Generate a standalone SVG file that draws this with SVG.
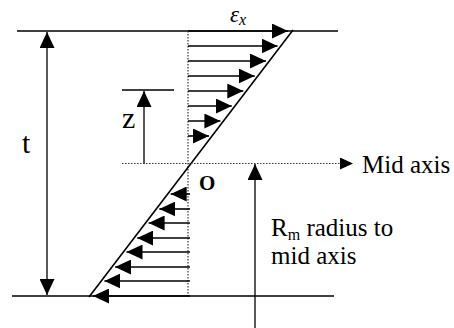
<svg xmlns="http://www.w3.org/2000/svg" width="454" height="328" viewBox="0 0 454 328">
<style>
.ln{stroke:#000;stroke-width:1.6;fill:none}
.thin{stroke:#000;stroke-width:1.3;fill:none}
.dot{stroke:#333;stroke-width:1.2;stroke-dasharray:1.5 1.5;fill:none}
.ar{stroke:#000;stroke-width:1.6;fill:none;marker-end:url(#ah)}
text{font-family:'Liberation Serif','DejaVu Serif',serif;fill:#000}
</style>
<defs>
<marker id="ah" markerUnits="userSpaceOnUse" markerWidth="17" markerHeight="15" refX="16" refY="7.5" orient="auto">
<path d="M0,0 L16,7.5 L0,15 Z" fill="#000"/>
</marker>
<marker id="av" markerUnits="userSpaceOnUse" markerWidth="16" markerHeight="15" refX="16" refY="7.5" orient="auto">
<path d="M0,0 L16,7.5 L0,15 Z" fill="#000"/>
</marker>
<marker id="am" markerUnits="userSpaceOnUse" markerWidth="14" markerHeight="12" refX="13" refY="6" orient="auto">
<path d="M0,0 L13,6 L0,12 Z" fill="#000"/>
</marker>
</defs>
<g id="plate">
<line class="ln" x1="17" y1="31" x2="338" y2="31"/>
<line class="ln" x1="12" y1="296" x2="334" y2="296" stroke-width="2"/>
<line class="dot" x1="188" y1="31" x2="188" y2="296"/>
<line class="ln" x1="293" y1="30" x2="89" y2="297" stroke-width="3.2"/>
</g>
<g id="connectors">
<g id="upper-strains">
<line class="ar" x1="188" y1="31" x2="288" y2="31"/>
<line class="ar" x1="188" y1="46" x2="277.6" y2="46"/>
<line class="ar" x1="188" y1="61" x2="266" y2="61"/>
<line class="ar" x1="188" y1="76" x2="254.7" y2="76"/>
<line class="ar" x1="188" y1="91" x2="243.3" y2="91"/>
<line class="ar" x1="188" y1="106" x2="231.8" y2="106"/>
<line class="ar" x1="188" y1="121" x2="220.4" y2="121"/>
<line class="ar" x1="188" y1="136" x2="209" y2="136"/>
</g>
<g id="lower-strains">
<line class="ar" x1="190" y1="194" x2="170.7" y2="194"/>
<line class="ar" x1="190" y1="209" x2="159.3" y2="209"/>
<line class="ar" x1="190" y1="223" x2="148.6" y2="223"/>
<line class="ar" x1="190" y1="238" x2="137.2" y2="238"/>
<line class="ar" x1="190" y1="252" x2="126.5" y2="252"/>
<line class="ar" x1="190" y1="267" x2="115.1" y2="267"/>
<line class="ar" x1="190" y1="281" x2="104.4" y2="281"/>
<line class="ar" x1="190" y1="296" x2="93" y2="296"/>
</g>
<g id="t-dimension">
<line class="thin" x1="47" y1="164" x2="47" y2="32" marker-end="url(#av)"/>
<line class="thin" x1="47" y1="164" x2="47" y2="295" marker-end="url(#av)"/>
</g>
<g id="z-dimension">
<line class="thin" x1="122" y1="90" x2="174" y2="90"/>
<line class="thin" x1="144" y1="164" x2="144" y2="91" marker-end="url(#av)"/>
</g>
<g id="mid-axis">
<line class="dot" x1="122" y1="163.5" x2="353" y2="163.5" marker-end="url(#am)"/>
</g>
<g id="radius">
<line class="thin" x1="255" y1="328" x2="255" y2="164" marker-end="url(#av)"/>
</g>
</g>
<g id="labels">
<text x="230" y="22" font-family="Liberation Serif, serif" font-size="23" font-style="italic">ε<tspan font-size="16" dy="3">x</tspan></text>
<text x="22" y="153" font-family="Liberation Serif, serif" font-size="30">t</text>
<text x="122" y="128" font-family="Liberation Serif, serif" font-size="30">z</text>
<text x="199" y="190" font-family="Liberation Serif, serif" font-size="21" font-weight="bold">O</text>
<text x="362" y="173" font-family="Liberation Serif, serif" font-size="25">Mid axis</text>
<text x="271" y="236" font-family="Liberation Serif, serif" font-size="25">R<tspan font-size="16" dy="4">m</tspan><tspan dy="-4"> radius to</tspan></text>
<text x="271" y="264" font-family="Liberation Serif, serif" font-size="25">mid axis</text>
</g>
</svg>
